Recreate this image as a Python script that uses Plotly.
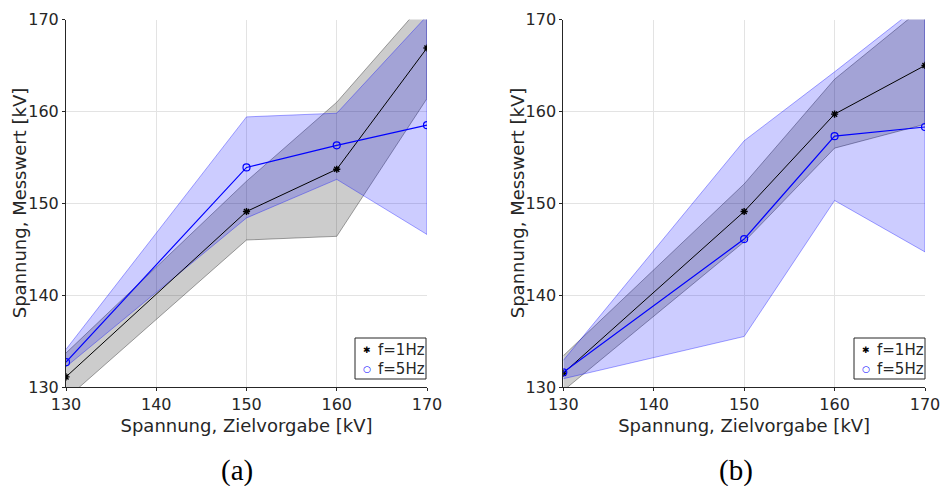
import plotly.graph_objects as go

# Target voltages [kV]
x_kv = [130, 150, 160, 170]

# Panel (a): measured voltage, mean and spread band
mean_1hz_a = [131.1, 149.1, 153.7, 166.9]
lo_1hz_a = [128.7, 146.0, 146.4, 161.4]
hi_1hz_a = [133.7, 152.4, 161.0, 172.2]
mean_5hz_a = [132.7, 153.9, 156.3, 158.5]
lo_5hz_a = [132.2, 148.4, 152.6, 146.6]
hi_5hz_a = [134.1, 159.4, 159.8, 170.4]

# Panel (b)
mean_1hz_b = [131.5, 149.1, 159.7, 165.0]
lo_1hz_b = [129.6, 145.8, 156.0, 158.6]
hi_1hz_b = [133.4, 152.1, 163.5, 171.5]
mean_5hz_b = [131.6, 146.1, 157.3, 158.3]
lo_5hz_b = [130.9, 135.5, 150.3, 144.7]
hi_5hz_b = [132.9, 156.8, 164.3, 172.0]

series_labels = ["f=1Hz", "f=5Hz"]
tick_vals = [130, 140, 150, 160, 170]
caption_labels = ["(a)", "(b)"]
x_label = "Spannung, Zielvorgabe [kV]"
y_label = "Spannung, Messwert [kV]"

TEXT = "#262626"
SANS = "DejaVu Sans"
W, H = 944, 486

fig = go.Figure()


def add_panel(xa, ya, m1, lo1, hi1, m5, lo5, hi5):
    # spread bands
    fig.add_trace(go.Scatter(
        x=x_kv + x_kv[::-1], y=hi1 + lo1[::-1], fill="toself",
        fillcolor="rgba(0,0,0,0.2)", line=dict(color="rgba(0,0,0,0.35)", width=1),
        mode="lines", hoverinfo="skip", showlegend=False, xaxis=xa, yaxis=ya))
    fig.add_trace(go.Scatter(
        x=x_kv + x_kv[::-1], y=hi5 + lo5[::-1], fill="toself",
        fillcolor="rgba(0,0,255,0.2)", line=dict(color="rgba(0,0,255,0.35)", width=1),
        mode="lines", hoverinfo="skip", showlegend=False, xaxis=xa, yaxis=ya))
    # mean curves
    fig.add_trace(go.Scatter(
        x=x_kv, y=m1, mode="lines+markers", name=series_labels[0],
        line=dict(color="black", width=1),
        marker=dict(symbol="asterisk-open", size=6, color="black", line=dict(width=1.4, color="black")),
        showlegend=False, xaxis=xa, yaxis=ya))
    fig.add_trace(go.Scatter(
        x=x_kv, y=m5, mode="lines+markers", name=series_labels[1],
        line=dict(color="#0000ff", width=1.2),
        marker=dict(symbol="circle-open", size=7, color="#0000ff", line=dict(width=1.2, color="#0000ff")),
        showlegend=False, xaxis=xa, yaxis=ya))


add_panel("x", "y", mean_1hz_a, lo_1hz_a, hi_1hz_a, mean_5hz_a, lo_5hz_a, hi_5hz_a)
add_panel("x2", "y2", mean_1hz_b, lo_1hz_b, hi_1hz_b, mean_5hz_b, lo_5hz_b, hi_5hz_b)

axis_common = dict(
    range=[130, 170], tickvals=tick_vals, showline=True, linecolor=TEXT, linewidth=1,
    ticks="outside", ticklen=3, tickcolor=TEXT, showgrid=True, gridcolor="#e3e3e3",
    gridwidth=1, zeroline=False, tickfont=dict(family=SANS, size=16, color=TEXT),
    fixedrange=True, automargin=False,
)
x_title = dict(text=x_label, font=dict(family=SANS, size=18, color=TEXT), standoff=6)

ydom = [1 - 387 / H, 1 - 19.5 / H]
fig.update_layout(
    width=W, height=H,
    margin=dict(l=0, r=0, t=0, b=0),
    paper_bgcolor="white", plot_bgcolor="white",
    xaxis=dict(domain=[66 / W, 427 / W], anchor="y", title=x_title, **axis_common),
    yaxis=dict(domain=ydom, anchor="x", **axis_common),
    xaxis2=dict(domain=[563.3 / W, 925 / W], anchor="y2", title=x_title, **axis_common),
    yaxis2=dict(domain=ydom, anchor="x2", **axis_common),
    showlegend=False,
)

# Vertical axis titles
for cx in (19, 517):
    fig.add_annotation(text=y_label, x=cx / W, y=sum(ydom) / 2, xref="paper", yref="paper",
                       xanchor="center", yanchor="middle", textangle=-90, showarrow=False,
                       font=dict(family=SANS, size=18, color=TEXT))

# Compact boxed legend in the lower right corner of each panel
for right_px in (426, 925):
    left_px = right_px - 71
    fig.add_shape(type="rect", xref="paper", yref="paper",
                  x0=left_px / W, x1=right_px / W, y0=1 - 379 / H, y1=1 - 338 / H,
                  line=dict(color=TEXT, width=1), fillcolor="white", layer="above")
    rows = [("✱", "black", 9, series_labels[0], 350), ("○", "#0000ff", 9, series_labels[1], 368.5)]
    for glyph, col, gsize, label, ypx in rows:
        fig.add_annotation(text=glyph, x=(left_px + 11.5) / W, y=1 - ypx / H,
                           xref="paper", yref="paper", xanchor="center", yanchor="middle",
                           showarrow=False, font=dict(family=SANS, size=gsize, color=col))
        fig.add_annotation(text=label, x=(left_px + 21) / W, y=1 - ypx / H,
                           xref="paper", yref="paper", xanchor="left", yanchor="middle",
                           showarrow=False, font=dict(family=SANS, size=15, color=TEXT))

for label, cx in zip(caption_labels, [237 / W, 736 / W]):
    fig.add_annotation(text=label, x=cx, y=1 - 470 / H, xref="paper", yref="paper",
                       xanchor="center", yanchor="middle", showarrow=False,
                       font=dict(family="Liberation Serif", size=29, color="black"))

fig.write_html("out.html")
